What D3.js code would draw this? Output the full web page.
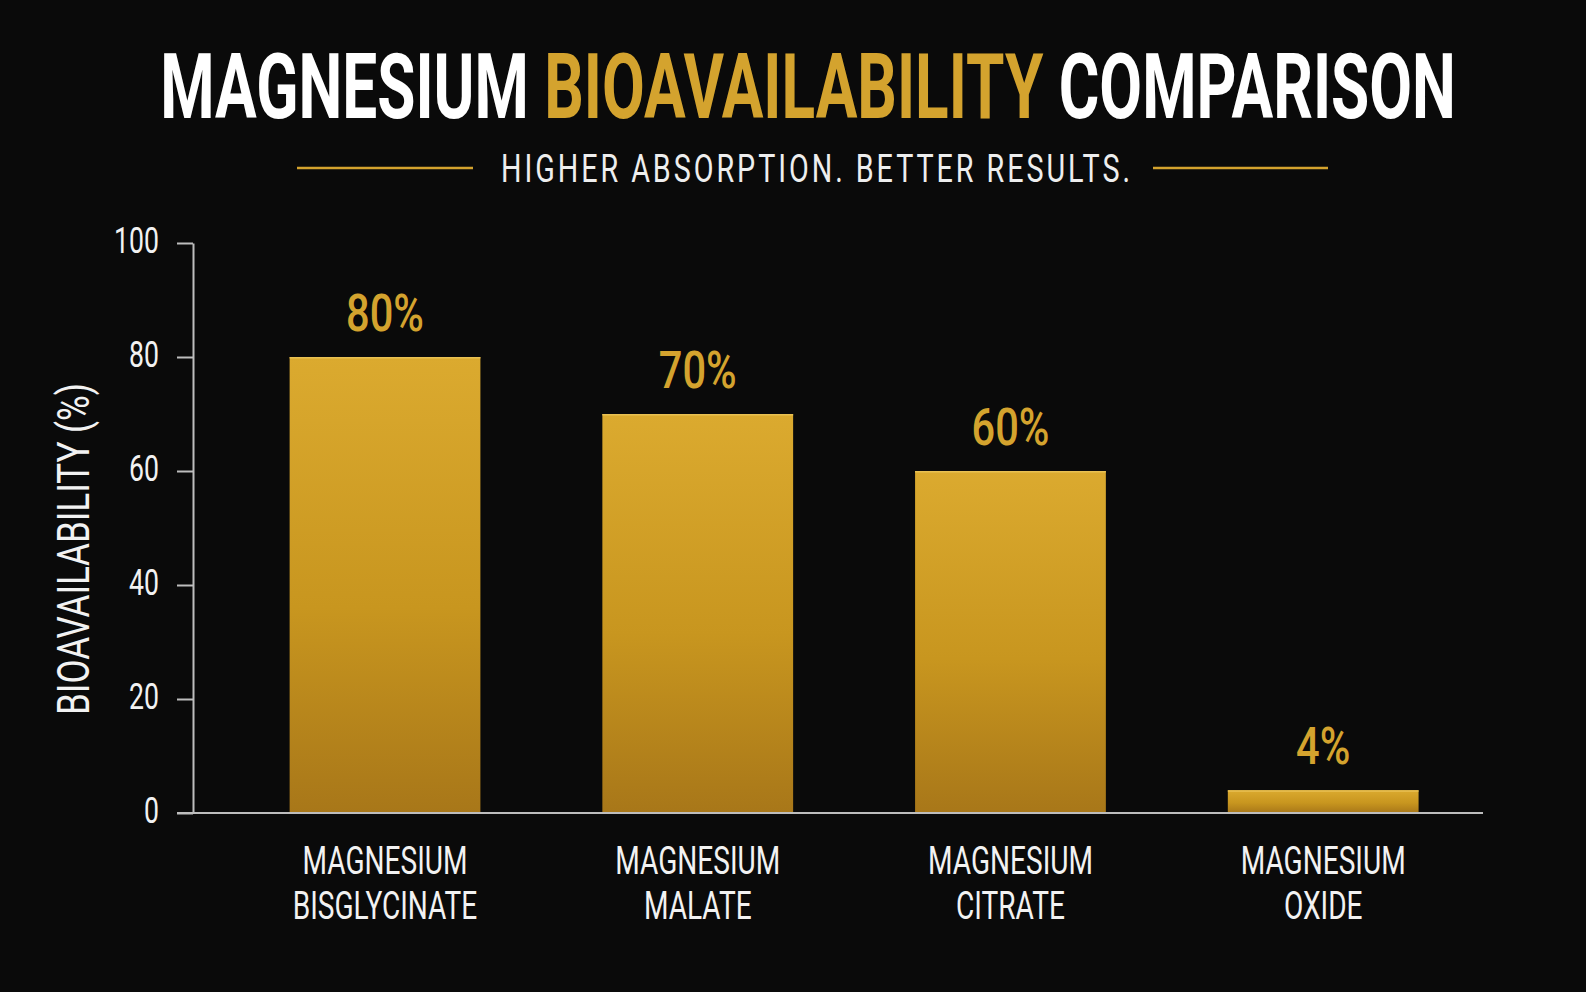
<!DOCTYPE html>
<html>
<head>
<meta charset="utf-8">
<script src="https://cdn.jsdelivr.net/npm/d3@7"></script>
<style>
  html, body { margin: 0; background: #0a0a0a; }
  svg { display: block; }
</style>
</head>
<body>
<svg id="chart" width="1586" height="992"></svg>
<script>
// chart data
const forms = ["MAGNESIUM BISGLYCINATE", "MAGNESIUM MALATE", "MAGNESIUM CITRATE", "MAGNESIUM OXIDE"];
const values = [80, 70, 60, 4];
const yTicks = [0, 20, 40, 60, 80, 100];
const titleParts = ["MAGNESIUM ", "BIOAVAILABILITY", " COMPARISON"];
const subtitle = "HIGHER ABSORPTION. BETTER RESULTS.";
const yLabel = "BIOAVAILABILITY (%)";

const FONT = "Roboto, 'Noto Sans', sans-serif";
const GOLD = "#d4a32e";
const AXIS = "#bdbdbd";

const svg = d3.select("#chart");

const x = d3.scaleBand()
  .domain(forms)
  .range([193, 1483])
  .paddingInner(0.39)
  .paddingOuter(0.2575)
  .align(0.6);
const y = d3.scaleLinear().domain([0, 100]).range([813, 243]);

// condensed look: squeeze text horizontally around its anchor point
function squeeze(sel, sx) {
  sel.each(function () {
    const t = d3.select(this);
    const tx = +t.attr("x") || 0, ty = +t.attr("y") || 0;
    t.attr("x", 0).attr("y", 0)
     .attr("transform", `translate(${tx},${ty}) scale(${sx},1)`);
  });
}
function fit(sel, w) {
  sel.each(function () {
    const n = this.getComputedTextLength();
    squeeze(d3.select(this), w / n);
  });
}

const defs = svg.append("defs");
const grad = defs.append("linearGradient").attr("id", "barGold")
  .attr("x1", 0).attr("y1", 0).attr("x2", 0).attr("y2", 1);
grad.append("stop").attr("offset", "0%").attr("stop-color", "#dbaa2f");
grad.append("stop").attr("offset", "55%").attr("stop-color", "#c8961f");
grad.append("stop").attr("offset", "100%").attr("stop-color", "#a87719");

// title
const title = svg.append("text")
  .attr("x", 808).attr("y", 118)
  .attr("text-anchor", "middle")
  .attr("font-family", FONT).attr("font-weight", 700).attr("font-size", 91)
  .attr("fill", "#ffffff");
title.selectAll("tspan").data(titleParts).enter().append("tspan")
  .attr("fill", (d, i) => i === 1 ? GOLD : "#ffffff")
  .text(d => d);
fit(title, 1296);

// subtitle + side rules
svg.append("text")
  .attr("x", 817).attr("y", 182)
  .attr("text-anchor", "middle")
  .attr("font-family", FONT).attr("font-size", 39)
  .attr("letter-spacing", 4)
  .attr("fill", "#eeeeee")
  .text(subtitle)
  .call(fit, 632);
svg.selectAll(".rule").data([[297, 473], [1153, 1328]]).enter().append("line")
  .attr("class", "rule")
  .attr("x1", d => d[0]).attr("x2", d => d[1])
  .attr("y1", 168).attr("y2", 168)
  .attr("stroke", GOLD).attr("stroke-width", 2.5);

// y axis
const yAxis = svg.append("g")
  .attr("transform", "translate(193,0)")
  .call(d3.axisLeft(y).tickValues(yTicks).tickSize(16).tickSizeOuter(0).tickPadding(18));
yAxis.select(".domain").attr("stroke", AXIS).attr("stroke-width", 2);
yAxis.selectAll(".tick line").attr("stroke", AXIS).attr("stroke-width", 2);
yAxis.selectAll(".tick text")
  .attr("fill", "#f2f2f2")
  .attr("font-family", FONT).attr("font-size", 37)
  .attr("dy", "0.26em")
  .call(squeeze, 0.72);

svg.append("text")
  .attr("transform", "translate(89,549) rotate(-90)")
  .attr("text-anchor", "middle")
  .attr("font-family", FONT).attr("font-size", 44)
  .attr("fill", "#f2f2f2")
  .text(yLabel)
  .each(function () {
    const n = this.getComputedTextLength();
    d3.select(this).attr("transform", `translate(89,549) rotate(-90) scale(${332 / n},1)`);
  });

// bars
const bars = svg.append("g");
bars.selectAll("rect").data(values).enter().append("rect")
  .attr("x", (d, i) => x(forms[i]))
  .attr("y", d => y(d))
  .attr("width", x.bandwidth())
  .attr("height", d => y(0) - y(d))
  .attr("fill", "url(#barGold)");
bars.selectAll("line").data(values).enter().append("line")
  .attr("x1", (d, i) => x(forms[i]))
  .attr("x2", (d, i) => x(forms[i]) + x.bandwidth())
  .attr("y1", d => y(d) + 0.75).attr("y2", d => y(d) + 0.75)
  .attr("stroke", "#e9c153").attr("stroke-width", 1.5);

// baseline
svg.append("line")
  .attr("x1", 177).attr("x2", 1483)
  .attr("y1", y(0)).attr("y2", y(0))
  .attr("stroke", AXIS).attr("stroke-width", 2);

// value labels
svg.append("g").selectAll("text").data(values).enter().append("text")
  .attr("x", (d, i) => x(forms[i]) + x.bandwidth() / 2)
  .attr("y", d => y(d) - 26)
  .attr("text-anchor", "middle")
  .attr("font-family", FONT).attr("font-weight", 500).attr("font-size", 52)
  .attr("fill", GOLD)
  .text(d => d + "%")
  .call(squeeze, 0.8);

// category labels (two lines)
const cats = svg.append("g").selectAll("g").data(forms).enter().append("g");
cats.each(function (name) {
  const cut = name.indexOf(" ");
  const lines = [name.slice(0, cut), name.slice(cut + 1)];
  d3.select(this).selectAll("text").data(lines).enter().append("text")
    .attr("x", x(name) + x.bandwidth() / 2)
    .attr("y", (d, j) => 874 + j * 45)
    .attr("text-anchor", "middle")
    .attr("font-family", FONT).attr("font-size", 39)
    .attr("fill", "#f2f2f2")
    .text(d => d)
    .call(squeeze, 0.72);
});
</script>
</body>
</html>
